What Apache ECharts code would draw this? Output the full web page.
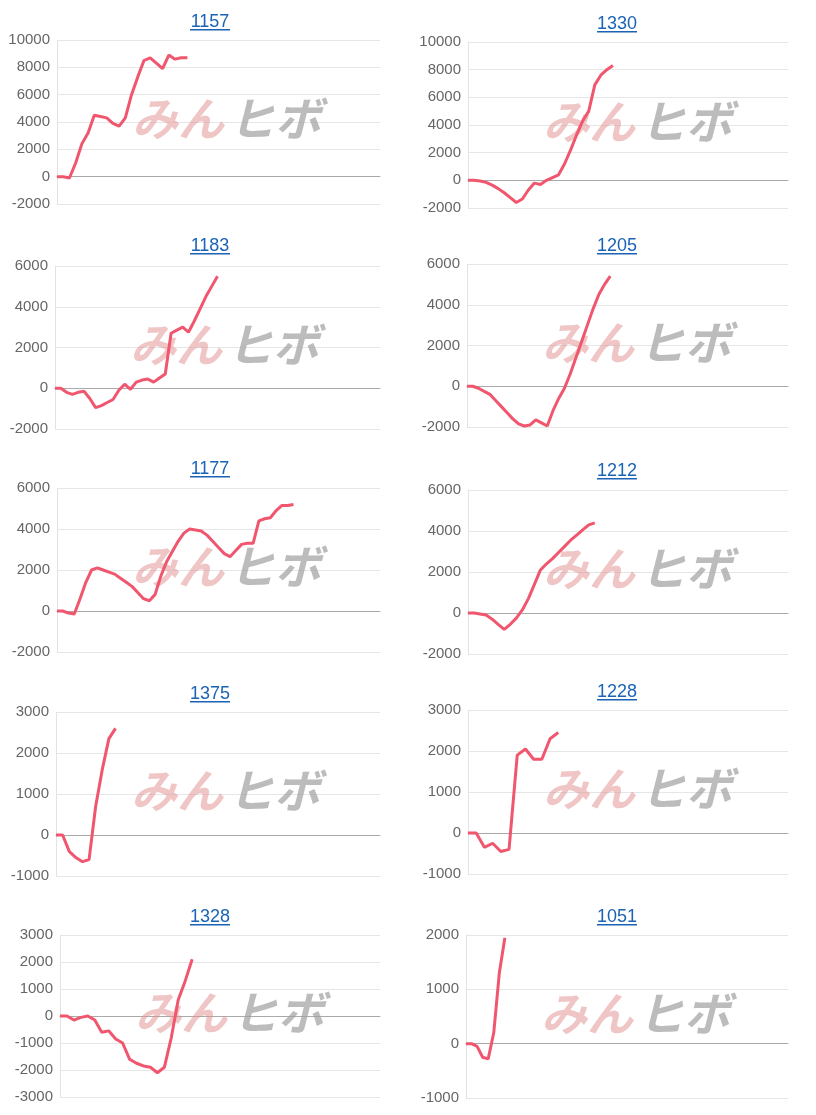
<!DOCTYPE html>
<html><head><meta charset="utf-8">
<script src="https://cdn.jsdelivr.net/npm/echarts@6/dist/echarts.min.js"></script>
<style>html,body{margin:0;padding:0;background:#fff}#c{width:816px;height:1115px}</style>
</head><body><div id="c"></div>
<script>
const titles = ['1157','1330','1183','1205','1177','1212','1375','1228','1328','1051'];
const s1157 = [0,0,-100,1000,2400,3200,4500,4400,4300,3900,3700,4300,6000,7300,8500,8700,8300,7900,8900,8600,8700,8700];
const s1330 = [0,0,-50,-150,-350,-600,-900,-1250,-1600,-1350,-700,-200,-300,0,200,400,1200,2200,3300,4300,5000,6900,7600,8000,8300];
const s1183 = [0,0,-200,-300,-200,-150,-500,-950,-850,-700,-550,-100,200,-50,300,400,450,300,500,700,2700,2850,3000,2750,3300,3900,4500,5000,5500];
const s1205 = [0,0,-100,-250,-400,-700,-1000,-1300,-1600,-1850,-1950,-1900,-1650,-1800,-1950,-1200,-600,-100,600,1400,2200,3000,3800,4500,5000,5400];
const s1177 = [0,0,-100,-150,600,1400,2000,2100,2000,1900,1800,1600,1400,1200,900,600,500,800,1700,2400,2900,3400,3800,4000,3950,3900,3700,3400,3100,2800,2650,2950,3250,3300,3300,4400,4500,4550,4900,5150,5150,5200];
const s1212 = [0,0,-50,-100,-300,-550,-800,-550,-250,150,700,1400,2100,2400,2650,2950,3250,3550,3800,4050,4300,4400];
const s1375 = [0,0,-400,-550,-650,-600,700,1600,2350,2600];
const s1228 = [0,0,-350,-250,-450,-400,1900,2050,1800,1800,2300,2450];
const s1328 = [0,0,-150,-50,0,-150,-600,-550,-850,-1000,-1600,-1750,-1850,-1900,-2100,-1900,-800,600,1300,2100];
const s1051 = [0,0,-50,-250,-280,200,1300,1950];
const seriesData = [s1157,s1330,s1183,s1205,s1177,s1212,s1375,s1228,s1328,s1051];
const catCounts = [53,54,57,57,57,54,50,40,47,59];
const yMin = [-2000,-2000,-2000,-2000,-2000,-2000,-1000,-1000,-3000,-1000];
const yMax = [10000,10000,6000,6000,6000,6000,3000,3000,3000,2000];
const yStep = [2000,2000,2000,2000,2000,2000,1000,1000,1000,1000];

const gridTop = [40,42,266,264,488,490,712,710,935,935];
const gridBot = [204,208,429,427,652,654,876,874,1097,1098];
const gridLeft = [57,468,55,467,57,468,56,468,60,466];
const colRight=[380,788];
const titleY = [8,10,232,232,455,457,680,678,903,903];
const titleX = [210,617];

const grids=[],xAxes=[],yAxes=[],series=[],titleArr=[],graphics=[];
titles.forEach((t,i)=>{
  const c=i%2;
  const L=gridLeft[i], R=colRight[c];
  grids.push({left:L,width:R-L,top:gridTop[i],height:gridBot[i]-gridTop[i]});
  const cats=Array.from({length:catCounts[i]},(_,k)=>k);
  xAxes.push({type:'category',gridIndex:i,data:cats,boundaryGap:false,
    axisLine:{onZero:true,lineStyle:{color:'#aaa'}},axisTick:{show:false},axisLabel:{show:false},splitLine:{show:false}});
  yAxes.push({type:'value',gridIndex:i,min:yMin[i],max:yMax[i],interval:yStep[i],
    axisLine:{show:true,lineStyle:{color:'#e3e3e3'}},axisTick:{show:false},
    axisLabel:{color:'#666',fontSize:15,fontFamily:'Arial, Liberation Sans',margin:7,formatter:v=>String(v)},
    splitLine:{lineStyle:{color:'#e6e6e6'}}});
  series.push({type:'line',xAxisIndex:i,yAxisIndex:i,data:seriesData[i],showSymbol:false,
    lineStyle:{color:'#f0566e',width:3},itemStyle:{color:'#f0566e'},z:3});
  const cx=titleX[c];
  titleArr.push({text:t,left:cx-5,top:titleY[i],textAlign:'center',
    textStyle:{color:'#1a63b5',fontSize:18,fontWeight:'normal',fontFamily:'Arial, Liberation Sans'}});
  graphics.push({type:'rect',shape:{x:cx-20,y:titleY[i]+21,width:40,height:1.5},style:{fill:'#1a63b5'}});
  const wy=(gridTop[i]+gridBot[i])/2 - 2;
  graphics.push({type:'text',left:L+75,top:wy-24,z:1,style:{text:'みん',fontSize:46,fontWeight:'bold',fontStyle:'italic',fontFamily:'Noto Sans CJK JP',fill:'rgba(225,140,140,0.5)'}});
  graphics.push({type:'text',left:L+172,top:wy-24,z:1,style:{text:'ヒボ',fontSize:46,fontWeight:'bold',fontStyle:'italic',fontFamily:'Noto Sans CJK JP',fill:'rgba(160,160,160,0.7)'}});
});
const chart=echarts.init(document.getElementById('c'),null,{renderer:'canvas'});
chart.setOption({animation:false,title:titleArr,grid:grids,xAxis:xAxes,yAxis:yAxes,series:series,graphic:graphics});
</script></body></html>
